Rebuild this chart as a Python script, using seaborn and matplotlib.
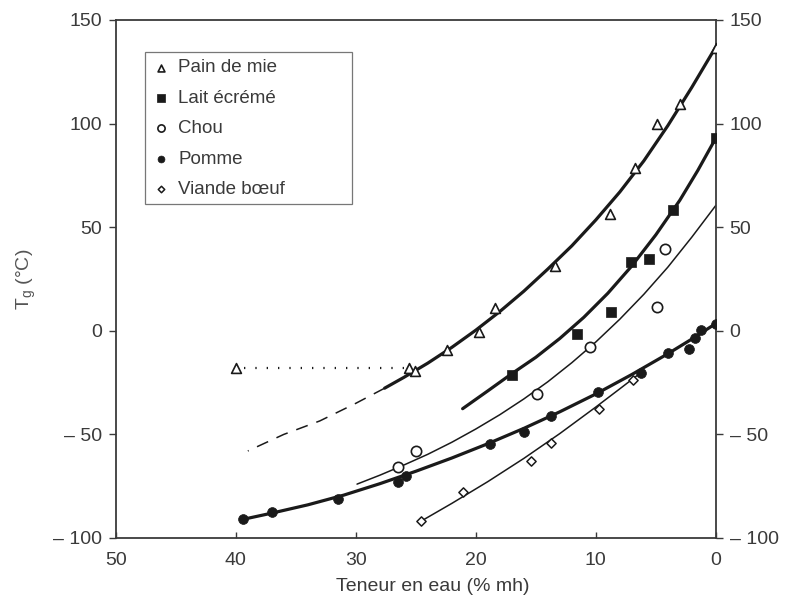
import matplotlib
matplotlib.use("Agg")
import matplotlib.pyplot as plt
from matplotlib.patches import Rectangle
import seaborn as sns

# measured glass transition points (x = water content %, y = Tg in degC)
pain_x = [40.0, 25.6, 25.1, 22.4, 19.7, 18.4, 13.4, 8.8, 6.75, 4.9, 3.0, 0.0]
pain_y = [-18.0, -18.0, -19.5, -9.2, -0.4, 11.0, 31.4, 56.5, 78.5, 100.0, 109.5, 136.5]

lait_x = [17.0, 11.6, 8.75, 7.1, 5.6, 3.6, 0.0]
lait_y = [-21.5, -1.5, 9.2, 33.0, 34.5, 58.5, 93.0]

chou_x = [26.5, 25.0, 14.9, 10.5, 4.9, 4.25]
chou_y = [-65.5, -58.0, -30.5, -8.0, 11.5, 39.5]

pomme_x = [39.4, 37.0, 31.5, 26.5, 25.8, 18.8, 16.0, 13.75, 9.8, 6.2, 4.0, 2.25, 1.75, 1.2, 0.0]
pomme_y = [-91.0, -87.5, -81.0, -73.0, -70.0, -54.5, -49.0, -41.0, -29.6, -20.2, -10.5, -8.8, -3.5, 0.5, 3.5]

viande_x = [24.6, 21.1, 15.4, 13.75, 9.7, 6.9]
viande_y = [-92.0, -78.0, -63.0, -54.2, -37.8, -23.7]

# fitted curves
pain_fit_x = [27.6, 26, 24, 22, 20, 18, 16, 14, 12, 10, 8, 6, 4, 2, 0]
pain_fit_y = [-27.7, -22.5, -15.6, -8.0, 0.3, 9.3, 19.1, 29.8, 41.0, 53.5, 67.0, 82.0, 99.0, 117.5, 137.0]
pain_ext_x = [39.0, 36.0, 33.0, 30.0, 27.6]
pain_ext_y = [-58.0, -50.0, -43.5, -35.0, -27.7]
pain_link_x = [39.4, 26.0]
pain_link_y = [-18.0, -18.0]

lait_fit_x = [21.1, 19, 17, 15, 13, 11, 9, 7, 5, 3, 1.5, 0]
lait_fit_y = [-37.6, -29.0, -20.7, -12.8, -3.7, 6.5, 18.1, 31.3, 46.3, 63.0, 77.4, 93.0]

chou_fit_x = [29.9, 28, 26, 24, 22, 20, 18, 16, 14, 12, 10, 8, 6, 4, 2, 0]
chou_fit_y = [-74.0, -69.7, -64.8, -59.6, -53.8, -47.4, -40.5, -32.9, -24.6, -15.4, -5.4, 5.6, 17.6, 30.7, 45.2, 60.5]

pomme_fit_x = [39.4, 37, 34, 31, 28, 25, 22, 19, 16, 13, 10, 7, 4, 2, 0]
pomme_fit_y = [-91.0, -88.0, -84.0, -79.3, -73.8, -67.8, -61.4, -54.5, -47.1, -39.1, -30.5, -21.1, -11.1, -4.0, 3.5]

viande_fit_x = [24.6, 22, 19, 16, 13, 10, 8, 6.2]
viande_fit_y = [-92.0, -83.3, -72.8, -61.6, -49.6, -36.8, -28.0, -20.0]

x_ticks = [50, 40, 30, 20, 10, 0]
y_ticks = [150, 100, 50, 0, -50, -100]
y_tick_labels = ["150", "100", "50", "0", "\u2013 50", "\u2013 100"]

sns.set_style("white")
plt.rcParams["font.family"] = ["Liberation Sans", "DejaVu Sans"]

ink = "#1a1a1a"
grey = "#3a3a3a"

fig = plt.figure(figsize=(7.88, 6.09), dpi=100)
ax = fig.add_axes([0.147, 0.1166, 0.7614, 0.8506])

# curves
thick = dict(color=ink, linewidth=2.3, estimator=None, ax=ax)
thin = dict(color=ink, linewidth=1.1, estimator=None, ax=ax)
sns.lineplot(x=pain_fit_x, y=pain_fit_y, **thick)
sns.lineplot(x=pain_ext_x, y=pain_ext_y, linestyle=(0, (8, 6)), **thin)
sns.lineplot(x=pain_link_x, y=pain_link_y, color=ink, linewidth=1.6,
             linestyle=(0, (0.6, 4.5)), estimator=None, ax=ax)
sns.lineplot(x=lait_fit_x, y=lait_fit_y, **thick)
sns.lineplot(x=chou_fit_x, y=chou_fit_y, **thin)
sns.lineplot(x=pomme_fit_x, y=pomme_fit_y, **thick)
sns.lineplot(x=viande_fit_x, y=viande_fit_y, **thin)

# measured points
sns.scatterplot(x=pain_x, y=pain_y, marker="^", s=50, color="white",
                edgecolor=ink, linewidth=1.2, label="Pain de mie", zorder=3, ax=ax)
sns.scatterplot(x=lait_x, y=lait_y, marker="s", s=55, color=ink,
                edgecolor=ink, linewidth=0.5, label="Lait écrémé", zorder=3, ax=ax)
sns.scatterplot(x=chou_x, y=chou_y, marker="o", s=55, color="white",
                edgecolor=ink, linewidth=1.2, label="Chou", zorder=3, ax=ax)
sns.scatterplot(x=pomme_x, y=pomme_y, marker="o", s=50, color=ink,
                edgecolor=ink, linewidth=0.5, label="Pomme", zorder=3, ax=ax)
sns.scatterplot(x=viande_x, y=viande_y, marker="D", s=22, color="white",
                edgecolor=ink, linewidth=1.1, label="Viande bœuf", zorder=3, ax=ax)

ax.set_xlim(50, 0)
ax.set_ylim(-100, 150)
ax.set_xticks(x_ticks)
ax.set_xticklabels([str(v) for v in x_ticks])
ax.set_yticks(y_ticks)
ax.set_yticklabels(y_tick_labels)

for side in ["left", "right", "top", "bottom"]:
    ax.spines[side].set_visible(True)
    ax.spines[side].set_color(grey)
    ax.spines[side].set_linewidth(1.3)

ax.tick_params(axis="x", direction="in", length=4, width=1, color=grey,
               labelsize=14, labelcolor=grey, pad=10, top=False, bottom=True)
ax.tick_params(axis="y", direction="out", length=5, width=1, color=grey,
               labelsize=14, labelcolor=grey, pad=5, left=True, right=True,
               labelleft=True, labelright=True)

ax.set_xlabel("Teneur en eau (% mh)", fontsize=14, color=grey)
ax.xaxis.set_label_coords(0.528, -0.077)
ax.set_ylabel("T$_\\mathregular{g}$ (°C)", fontsize=14, color="#555555")
ax.yaxis.set_label_coords(-0.13, 0.5)

# legend box drawn separately, wider than the entries like in the original
ax.add_patch(Rectangle((0.0483, 0.645), 0.345, 0.2934, transform=ax.transAxes,
                       facecolor="white", edgecolor="#777777", linewidth=0.9, zorder=4))
leg = ax.legend(loc="upper left", bbox_to_anchor=(0.062, 0.924), borderaxespad=0,
                frameon=False, fontsize=13.5, markerscale=0.7,
                labelspacing=0.71, handletextpad=0.45, borderpad=0.0,
                handlelength=0.9, scatterpoints=1)
leg.set_zorder(5)
for t in leg.get_texts():
    t.set_color(grey)

fig.savefig("out.png", dpi=100)
